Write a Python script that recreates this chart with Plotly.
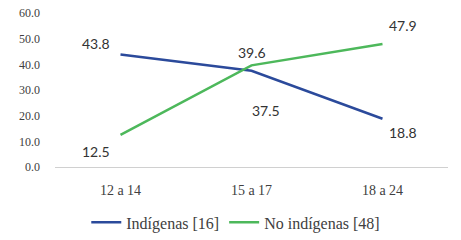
import plotly.graph_objects as go

categories = ["12 a 14", "15 a 17", "18 a 24"]
indigenas = [43.8, 37.5, 18.8]
no_indigenas = [12.5, 39.6, 47.9]
series_names = ["Indígenas [16]", "No indígenas [48]"]

blue = "#2B4A9B"
green = "#4DB85B"

fig = go.Figure()
fig.add_trace(go.Scatter(x=categories, y=indigenas, mode="lines", name=series_names[0],
                         line=dict(color=blue, width=2.5)))
fig.add_trace(go.Scatter(x=categories, y=no_indigenas, mode="lines", name=series_names[1],
                         line=dict(color=green, width=2.5)))

# label offsets (px)
off_ind = [(-25, 11), (14, -40), (20, -14)]
off_no = [(-25, -17), (0, 13), (20, 19)]
anns = []
for vals, offs in ((indigenas, off_ind), (no_indigenas, off_no)):
    for c, v, (dx, dy) in zip(categories, vals, offs):
        anns.append(dict(x=c, y=v, text=f"{v:.1f}", showarrow=False, xshift=dx, yshift=dy,
                         font=dict(family="Lato, Open Sans, sans-serif", size=14, color="#333333")))

fig.update_layout(
    width=461, height=240,
    margin=dict(l=55, r=13, t=13, b=73, autoexpand=False),
    paper_bgcolor="white", plot_bgcolor="white",
    showlegend=True,
    legend=dict(orientation="h", x=0.46, xanchor="center", y=-0.36, yanchor="middle",
                font=dict(family="Liberation Serif, serif", size=16, color="#404040"),
                itemwidth=30, tracegroupgap=0),
    annotations=anns,
    xaxis=dict(range=[-0.5, 2.5], showgrid=False, showline=True, linecolor="#D0D0D0", linewidth=1,
               automargin=False,
               ticks="", tickfont=dict(family="Liberation Serif, serif", size=14, color="#404040"),
               ticklabelstandoff=10),
    yaxis=dict(range=[0, 60], dtick=10, tickformat=".1f", showgrid=False, zeroline=False,
               automargin=False,
               showline=False, ticks="", tickfont=dict(family="Liberation Serif, serif", size=12, color="#404040"),
               ticklabelstandoff=14),
)

fig.write_html("out.html", config={"displayModeBar": False},
               post_script="document.body.style.margin='0px';")
